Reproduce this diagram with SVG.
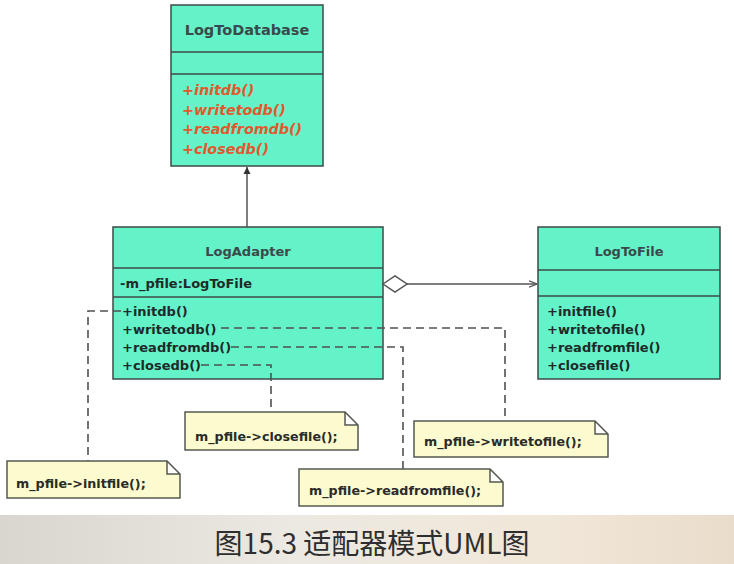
<svg xmlns="http://www.w3.org/2000/svg" width="734" height="564" viewBox="0 0 734 564">
<defs>
<style>
.cls{fill:#64f3c8;stroke:#3c4a46;stroke-width:1.5}
.sep{stroke:#3c4a46;stroke-width:1.5}
.title{font-family:"DejaVu Sans",sans-serif;font-weight:bold;font-size:13px;fill:#3a4a4a;text-anchor:middle}
.mem{font-family:"DejaVu Sans",sans-serif;font-weight:bold;font-size:13px;fill:#1e2a28}
.abs{font-family:"DejaVu Sans",sans-serif;font-weight:bold;font-style:italic;font-size:14.3px;fill:#e0592e}
.note{fill:#fbfbcf;stroke:#555a50;stroke-width:1.5}
.ntext{font-family:"DejaVu Sans",sans-serif;font-weight:bold;font-size:12.7px;fill:#2a2a2a}
.dash{fill:none;stroke:#505050;stroke-width:1.6;stroke-dasharray:8,5}
.line{fill:none;stroke:#555;stroke-width:1.5}
</style>
<marker id="tri" viewBox="0 0 10 10" refX="10" refY="5" markerWidth="7" markerHeight="9" orient="auto" markerUnits="userSpaceOnUse">
<path d="M0,0 L10,5 L0,10 z" fill="#333"/>
</marker>
<marker id="open" viewBox="0 0 10 10" refX="10" refY="5" markerWidth="8" markerHeight="8" orient="auto" markerUnits="userSpaceOnUse">
<path d="M0,1 L10,5 L0,9" fill="none" stroke="#555" stroke-width="1.5"/>
</marker>
<linearGradient id="band" x1="0" y1="0" x2="1" y2="0">
<stop offset="0" stop-color="#d9d6cf"/>
<stop offset="0.4" stop-color="#ece9e2"/>
<stop offset="0.75" stop-color="#f1e7d8"/>
<stop offset="1" stop-color="#e9dccb"/>
</linearGradient>
</defs>
<rect x="0" y="0" width="734" height="564" fill="#ffffff"/>
<rect x="0" y="515" width="734" height="49" fill="url(#band)"/>

<g id="LogToDatabase">
<rect class="cls" x="171" y="5" width="152" height="161"/>
<line class="sep" x1="171" y1="52" x2="323" y2="52"/>
<line class="sep" x1="171" y1="74" x2="323" y2="74"/>
<text class="title" x="247" y="35" style="font-size:14.5px">LogToDatabase</text>
<text class="abs" x="182" y="95">+initdb()</text>
<text class="abs" x="182" y="115">+writetodb()</text>
<text class="abs" x="182" y="134">+readfromdb()</text>
<text class="abs" x="182" y="154">+closedb()</text>
</g>

<g id="LogAdapter">
<rect class="cls" x="113" y="227" width="270" height="152"/>
<line class="sep" x1="113" y1="268" x2="383" y2="268"/>
<line class="sep" x1="113" y1="297" x2="383" y2="297"/>
<text class="title" x="248" y="256">LogAdapter</text>
<text class="mem" x="120" y="288">-m_pfile:LogToFile</text>
<text class="mem" x="122" y="316">+initdb()</text>
<text class="mem" x="122" y="334">+writetodb()</text>
<text class="mem" x="122" y="352">+readfromdb()</text>
<text class="mem" x="122" y="370">+closedb()</text>
</g>

<g id="LogToFile">
<rect class="cls" x="538" y="227" width="182" height="152"/>
<line class="sep" x1="538" y1="270" x2="720" y2="270"/>
<line class="sep" x1="538" y1="296" x2="720" y2="296"/>
<text class="title" x="629" y="256">LogToFile</text>
<text class="mem" x="547" y="316">+initfile()</text>
<text class="mem" x="547" y="334">+writetofile()</text>
<text class="mem" x="547" y="352">+readfromfile()</text>
<text class="mem" x="547" y="370">+closefile()</text>
</g>

<g id="connectors">
<line class="line" x1="247" y1="227" x2="247" y2="167" marker-end="url(#tri)"/>
<path class="line" d="M407,284 L537,284" marker-end="url(#open)"/>
<polygon points="383,284 395,276 407,284 395,292" fill="#fff" stroke="#555" stroke-width="1.5"/>
<path class="dash" d="M121,311 H88 V461"/>
<path class="dash" d="M221,328 H505 V421"/>
<path class="dash" d="M231,347 H403 V469"/>
<path class="dash" d="M201,365 H271 V412"/>
</g>

<g id="note-closefile">
<path class="note" d="M185,412 H345 L358,425 V450 H185 Z M345,412 V425 H358"/>
<text class="ntext" x="195" y="441">m_pfile-&gt;closefile();</text>
</g>

<g id="note-initfile">
<path class="note" d="M7,461 H167 L180,474 V498 H7 Z M167,461 V474 H180"/>
<text class="ntext" x="16" y="488">m_pfile-&gt;initfile();</text>
</g>

<g id="note-writetofile">
<path class="note" d="M414,421 H595 L608,434 V457 H414 Z M595,421 V434 H608"/>
<text class="ntext" x="424" y="446">m_pfile-&gt;writetofile();</text>
</g>

<g id="note-readfromfile">
<path class="note" d="M299,469 H490 L503,482 V506 H299 Z M490,469 V482 H503"/>
<text class="ntext" x="309" y="495">m_pfile-&gt;readfromfile();</text>
</g>

<text x="372" y="554" font-family="'Noto Sans CJK SC',sans-serif" font-size="28" fill="#2e2e2e" text-anchor="middle">图15.3 适配器模式UML图</text>
</svg>
